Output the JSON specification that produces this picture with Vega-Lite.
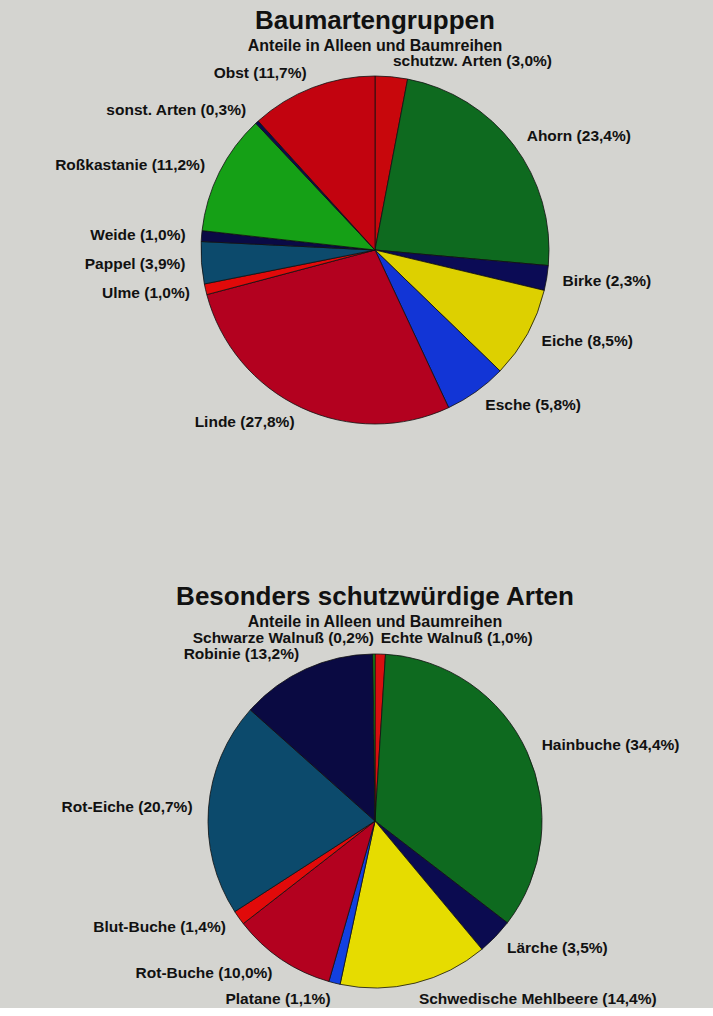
{
  "$schema": "https://vega.github.io/schema/vega-lite/v6.json",
  "background": "#d4d4d0",
  "padding": {"left": 37, "top": 7, "right": 0, "bottom": 0},
  "spacing": 153,
  "config": {
    "view": {"stroke": null},
    "font": "Liberation Sans",
    "title": {
      "font": "Liberation Sans", "fontSize": 26, "fontWeight": "bold", "color": "#111111",
      "subtitleFont": "Liberation Sans", "subtitleFontSize": 16, "subtitleFontWeight": "bold", "subtitleColor": "#111111",
      "subtitlePadding": 4, "anchor": "middle", "frame": "group"
    }
  },
  "resolve": {"scale": {"color": "independent", "theta": "independent"}},
  "datasets": {
    "baumarten": [
      {"Art": "schutzw. Arten", "Anteil": 3.0},
      {"Art": "Ahorn", "Anteil": 23.4},
      {"Art": "Birke", "Anteil": 2.3},
      {"Art": "Eiche", "Anteil": 8.5},
      {"Art": "Esche", "Anteil": 5.8},
      {"Art": "Linde", "Anteil": 27.8},
      {"Art": "Ulme", "Anteil": 1.0},
      {"Art": "Pappel", "Anteil": 3.9},
      {"Art": "Weide", "Anteil": 1.0},
      {"Art": "Roßkastanie", "Anteil": 11.2},
      {"Art": "sonst. Arten", "Anteil": 0.3},
      {"Art": "Obst", "Anteil": 11.7}
    ],
    "schutzwuerdig": [
      {"Art": "Echte Walnuß", "Anteil": 1.0},
      {"Art": "Hainbuche", "Anteil": 34.4},
      {"Art": "Lärche", "Anteil": 3.5},
      {"Art": "Schwedische Mehlbeere", "Anteil": 14.4},
      {"Art": "Platane", "Anteil": 1.1},
      {"Art": "Rot-Buche", "Anteil": 10.0},
      {"Art": "Blut-Buche", "Anteil": 1.4},
      {"Art": "Rot-Eiche", "Anteil": 20.7},
      {"Art": "Robinie", "Anteil": 13.2},
      {"Art": "Schwarze Walnuß", "Anteil": 0.2}
    ]
  },
  "vconcat": [
    {
      "width": 676,
      "height": 360,
      "title": {"text": "Baumartengruppen", "subtitle": "Anteile in Alleen und Baumreihen", "offset": 0},
      "data": {"name": "baumarten"},
      "transform": [
        {"window": [{"op": "row_number", "as": "idx"}, {"op": "sum", "field": "Anteil", "as": "cum"}]},
        {"joinaggregate": [{"op": "sum", "field": "Anteil", "as": "total"}]},
        {"calculate": "(datum.cum - datum.Anteil / 2) / datum.total * 360", "as": "mid"},
        {"calculate": "datum.Art + ' (' + replace(format(datum.Anteil, '.1f'), '.', ',') + '%)'", "as": "label"}
      ],
      "encoding": {
        "theta": {"field": "Anteil", "type": "quantitative", "stack": true},
        "order": {"field": "idx", "type": "quantitative"}
      },
      "layer": [
        {
          "mark": {"type": "arc", "outerRadius": 174, "stroke": "#111111", "strokeWidth": 0.8},
          "encoding": {
            "color": {
              "field": "Art", "type": "nominal", "legend": null,
              "scale": {
                "domain": ["schutzw. Arten", "Ahorn", "Birke", "Eiche", "Esche", "Linde", "Ulme", "Pappel", "Weide", "Roßkastanie", "sonst. Arten", "Obst"],
                "range": ["#c8070c", "#0e6a1f", "#0b0b55", "#ddd000", "#1235d6", "#b3011f", "#e10a0a", "#0c4a6c", "#0a0a45", "#15a016", "#0a0a50", "#c2030f"]
              }
            }
          }
        },
        {
          "mark": {
            "type": "text", "radius": 190, "fontSize": 15.5, "fontWeight": "bold", "color": "#111111",
            "baseline": "middle",
            "align": {"expr": "datum.mid > 180 ? 'right' : 'left'"}
          },
          "encoding": {"text": {"field": "label", "type": "nominal"}}
        }
      ]
    },
    {
      "width": 676,
      "height": 360,
      "title": {"text": "Besonders schutzwürdige Arten", "subtitle": "Anteile in Alleen und Baumreihen", "offset": 1},
      "data": {"name": "schutzwuerdig"},
      "transform": [
        {"window": [{"op": "row_number", "as": "idx"}, {"op": "sum", "field": "Anteil", "as": "cum"}]},
        {"joinaggregate": [{"op": "sum", "field": "Anteil", "as": "total"}]},
        {"calculate": "(datum.cum - datum.Anteil / 2) / datum.total * 360", "as": "mid"},
        {"calculate": "datum.Art + ' (' + replace(format(datum.Anteil, '.1f'), '.', ',') + '%)'", "as": "label"}
      ],
      "encoding": {
        "theta": {"field": "Anteil", "type": "quantitative", "stack": true},
        "order": {"field": "idx", "type": "quantitative"}
      },
      "layer": [
        {
          "mark": {"type": "arc", "outerRadius": 167, "stroke": "#111111", "strokeWidth": 0.8},
          "encoding": {
            "color": {
              "field": "Art", "type": "nominal", "legend": null,
              "scale": {
                "domain": ["Echte Walnuß", "Hainbuche", "Lärche", "Schwedische Mehlbeere", "Platane", "Rot-Buche", "Blut-Buche", "Rot-Eiche", "Robinie", "Schwarze Walnuß"],
                "range": ["#d81010", "#0e6a1f", "#0b0b50", "#e6dc00", "#1240e0", "#b3011f", "#e10a0a", "#0c4a6c", "#0a0a42", "#15a016"]
              }
            }
          }
        },
        {
          "mark": {
            "type": "text", "radius": 183, "fontSize": 15.5, "fontWeight": "bold", "color": "#111111",
            "baseline": "middle",
            "align": {"expr": "datum.mid > 180 ? 'right' : 'left'"}
          },
          "encoding": {"text": {"field": "label", "type": "nominal"}}
        }
      ]
    }
  ]
}
